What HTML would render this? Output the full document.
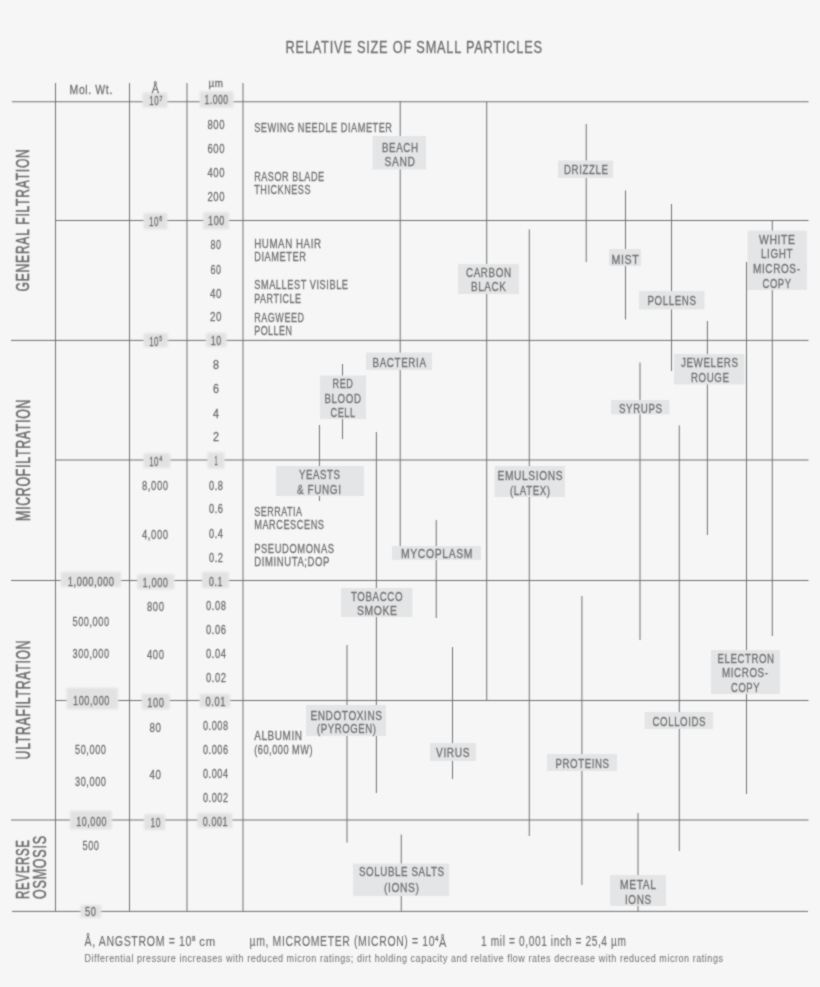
<!DOCTYPE html>
<html><head><meta charset="utf-8"><title>Relative Size of Small Particles</title>
<style>
html,body{margin:0;padding:0;background:#f6f6f6;}
svg{display:block;}
text{font-family:"Liberation Sans",Arial,sans-serif;fill:#6e6e6e;stroke:#6e6e6e;stroke-width:0.3px;}
text.r{stroke-width:0.55px;}
text.f1{stroke-width:0.15px;}
text.f2{stroke-width:0.05px;fill:#747474;stroke:#747474;}
</style></head><body>
<svg width="820" height="987" viewBox="0 0 820 987">
<defs><filter id="bd" x="-20%" y="-20%" width="140%" height="140%"><feGaussianBlur stdDeviation="0.9"/></filter>
<filter id="soft" x="0" y="0" width="820" height="987" filterUnits="userSpaceOnUse"><feConvolveMatrix color-interpolation-filters="sRGB" order="3" kernelMatrix="1 2 1 2 10 2 1 2 1" divisor="22" edgeMode="duplicate"/></filter></defs>
<g filter="url(#soft)">
<rect x="0" y="0" width="820" height="987" fill="#f6f6f6"/>
<g fill="#707070" >
<rect x="12" y="101.25" width="796.5" height="1"/>
<rect x="55" y="220" width="753.5" height="1"/>
<rect x="11" y="339.9" width="797.5" height="1"/>
<rect x="55" y="459.5" width="753.5" height="1"/>
<rect x="11" y="580" width="797.5" height="1"/>
<rect x="55" y="700" width="753.5" height="1"/>
<rect x="11" y="819.5" width="797.5" height="1"/>
<rect x="12" y="910.9" width="796" height="1"/>
<rect x="55" y="83" width="1" height="828"/>
<rect x="129" y="83" width="1" height="828"/>
<rect x="186.5" y="83" width="1" height="828"/>
<rect x="242.5" y="83" width="1" height="828"/>
<rect x="399.7" y="101" width="1" height="445"/>
<rect x="486.2" y="102" width="1" height="598"/>
<rect x="528.8" y="229.5" width="1" height="606.5"/>
<rect x="585.75" y="124" width="1" height="138"/>
<rect x="625" y="190.5" width="1" height="129"/>
<rect x="671" y="204" width="1" height="167"/>
<rect x="771.8" y="221" width="1" height="415"/>
<rect x="746" y="262" width="1" height="532"/>
<rect x="706.9" y="321" width="1" height="214"/>
<rect x="342" y="364" width="1" height="75"/>
<rect x="318.95" y="425" width="1" height="76"/>
<rect x="375.9" y="432" width="1" height="361"/>
<rect x="435.75" y="520" width="1" height="98"/>
<rect x="639.5" y="362.5" width="1" height="277.5"/>
<rect x="678.8" y="425.5" width="1" height="425.5"/>
<rect x="581.4" y="596" width="1" height="289"/>
<rect x="346.5" y="645" width="1" height="197.5"/>
<rect x="452" y="647" width="1" height="132"/>
<rect x="400.75" y="834.5" width="1" height="76.5"/>
<rect x="637.5" y="813" width="1" height="98"/>
</g>
<g fill="#f6f6f6">
<rect x="143.2" y="94.8" width="23.6" height="10.7"/>
<rect x="200.3" y="93.5" width="32.5" height="12"/>
<rect x="144.2" y="215" width="22.5" height="12.2"/>
<rect x="203.9" y="214.4" width="24.6" height="12.8"/>
<rect x="144.2" y="335.3" width="22.9" height="9.8"/>
<rect x="206.5" y="335" width="19.3" height="10"/>
<rect x="144.2" y="455.3" width="25.5" height="10.5"/>
<rect x="208" y="454.4" width="15.8" height="12.1"/>
<rect x="61.3" y="574" width="59.2" height="11"/>
<rect x="137.8" y="576.3" width="36" height="11"/>
<rect x="202.6" y="574" width="25.7" height="12"/>
<rect x="67.1" y="689.8" width="50.4" height="17.5"/>
<rect x="142.4" y="695.8" width="26.8" height="11.5"/>
<rect x="200.3" y="696" width="29.2" height="9.5"/>
<rect x="70.5" y="812.8" width="40.8" height="14.5"/>
<rect x="144.7" y="816.3" width="19.8" height="11.7"/>
<rect x="198" y="815" width="33.7" height="11"/>
<rect x="81" y="907" width="19.5" height="9"/>
</g>
<g fill="#e2e2e2" filter="url(#bd)">
<rect x="142.7" y="92.8" width="24.6" height="14.7"/>
<rect x="199.8" y="91.5" width="33.5" height="16"/>
<rect x="143.7" y="213" width="23.5" height="16.2"/>
<rect x="203.4" y="212.4" width="25.6" height="16.8"/>
<rect x="143.7" y="333.3" width="23.9" height="13.8"/>
<rect x="206" y="333" width="20.3" height="14"/>
<rect x="143.7" y="453.3" width="26.5" height="14.5"/>
<rect x="207.5" y="452.4" width="16.8" height="16.1"/>
<rect x="60.8" y="572" width="60.2" height="15"/>
<rect x="137.3" y="574.3" width="37" height="15"/>
<rect x="202.1" y="572" width="26.7" height="16"/>
<rect x="66.6" y="687.8" width="51.4" height="21.5"/>
<rect x="141.9" y="693.8" width="27.8" height="15.5"/>
<rect x="199.8" y="694" width="30.2" height="13.5"/>
<rect x="70" y="810.8" width="41.8" height="18.5"/>
<rect x="144.2" y="814.3" width="20.8" height="15.7"/>
<rect x="197.5" y="813" width="34.7" height="15"/>
<rect x="80.5" y="905" width="20.5" height="13"/>
</g>
<g fill="#e4e5e7">
<rect x="372.5" y="136" width="53.5" height="33.5"/>
<rect x="558" y="160.5" width="55" height="17.5"/>
<rect x="747.5" y="230.5" width="59.5" height="59.5"/>
<rect x="609" y="249" width="32" height="17"/>
<rect x="458" y="264" width="61" height="30"/>
<rect x="639" y="291" width="65.5" height="18.5"/>
<rect x="366" y="352.5" width="66" height="17.5"/>
<rect x="674" y="354" width="70.5" height="30.5"/>
<rect x="320" y="375.5" width="46" height="43.5"/>
<rect x="611" y="400" width="58.5" height="14.5"/>
<rect x="276" y="466" width="88" height="30"/>
<rect x="494.5" y="466" width="70.5" height="31"/>
<rect x="392" y="546" width="89" height="14"/>
<rect x="341" y="588" width="71.5" height="29"/>
<rect x="711" y="650" width="69" height="44"/>
<rect x="306" y="705" width="80" height="31"/>
<rect x="644.5" y="712" width="68.5" height="17"/>
<rect x="430" y="743" width="46" height="18"/>
<rect x="547" y="754" width="70" height="17"/>
<rect x="353" y="863.5" width="96" height="32.5"/>
<rect x="610" y="875" width="56" height="31"/>
</g>
<g>
<text x="285.6" y="52.6" font-size="16.28" textLength="257.16" lengthAdjust="spacingAndGlyphs" letter-spacing="0.98">RELATIVE SIZE OF SMALL PARTICLES</text>
<text x="69.6" y="93.5" font-size="13.66" textLength="43.32" lengthAdjust="spacingAndGlyphs" letter-spacing="0.82">Mol. Wt.</text>
<text x="151.7" y="93.2" font-size="12.35" textLength="7.1" lengthAdjust="spacingAndGlyphs">Å</text>
<text x="208.5" y="87.4" font-size="11.15" textLength="15.09" lengthAdjust="spacingAndGlyphs" letter-spacing="0.67">µm</text>
<text x="149.2" y="105.2" font-size="13.08" textLength="9.88" lengthAdjust="spacingAndGlyphs" letter-spacing="0.78">10</text>
<text x="159.6" y="101" font-size="7.12" textLength="3" lengthAdjust="spacingAndGlyphs">7</text>
<text x="149" y="225.7" font-size="13.37" textLength="9.99" lengthAdjust="spacingAndGlyphs" letter-spacing="0.8">10</text>
<text x="159.2" y="221.3" font-size="7.02" textLength="3" lengthAdjust="spacingAndGlyphs">6</text>
<text x="149.2" y="345.6" font-size="13.23" textLength="9.78" lengthAdjust="spacingAndGlyphs" letter-spacing="0.79">10</text>
<text x="159.2" y="341.3" font-size="7.12" textLength="2.8" lengthAdjust="spacingAndGlyphs">5</text>
<text x="149.2" y="465.8" font-size="13.52" textLength="9.78" lengthAdjust="spacingAndGlyphs" letter-spacing="0.81">10</text>
<text x="159.2" y="461.3" font-size="7.12" textLength="3" lengthAdjust="spacingAndGlyphs">4</text>
<text x="142" y="490.2" font-size="13.18" textLength="26.57" lengthAdjust="spacingAndGlyphs" letter-spacing="0.79">8,000</text>
<text x="142" y="538.8" font-size="13.52" textLength="26.57" lengthAdjust="spacingAndGlyphs" letter-spacing="0.81">4,000</text>
<text x="142.6" y="587" font-size="13.52" textLength="25.96" lengthAdjust="spacingAndGlyphs" letter-spacing="0.81">1,000</text>
<text x="147" y="611" font-size="12.89" textLength="17.57" lengthAdjust="spacingAndGlyphs" letter-spacing="0.77">800</text>
<text x="147" y="659.2" font-size="13.37" textLength="17.57" lengthAdjust="spacingAndGlyphs" letter-spacing="0.8">400</text>
<text x="147.2" y="707" font-size="13.52" textLength="17.26" lengthAdjust="spacingAndGlyphs" letter-spacing="0.81">100</text>
<text x="149.5" y="731.8" font-size="13.32" textLength="12.09" lengthAdjust="spacingAndGlyphs" letter-spacing="0.8">80</text>
<text x="149.5" y="779.3" font-size="13.52" textLength="12.09" lengthAdjust="spacingAndGlyphs" letter-spacing="0.81">40</text>
<text x="150.5" y="827" font-size="12.79" textLength="10.41" lengthAdjust="spacingAndGlyphs" letter-spacing="0.77">10</text>
<text x="67.7" y="585.9" font-size="13.52" textLength="46.96" lengthAdjust="spacingAndGlyphs" letter-spacing="0.81">1,000,000</text>
<text x="72.5" y="625.5" font-size="13.37" textLength="37.05" lengthAdjust="spacingAndGlyphs" letter-spacing="0.8">500,000</text>
<text x="72.5" y="658.2" font-size="13.18" textLength="37.05" lengthAdjust="spacingAndGlyphs" letter-spacing="0.79">300,000</text>
<text x="73" y="705.4" font-size="13.52" textLength="36.95" lengthAdjust="spacingAndGlyphs" letter-spacing="0.81">100,000</text>
<text x="75" y="754.2" font-size="13.37" textLength="31.55" lengthAdjust="spacingAndGlyphs" letter-spacing="0.8">50,000</text>
<text x="75" y="786.2" font-size="13.18" textLength="31.55" lengthAdjust="spacingAndGlyphs" letter-spacing="0.79">30,000</text>
<text x="76.3" y="825.9" font-size="12.94" textLength="30.63" lengthAdjust="spacingAndGlyphs" letter-spacing="0.78">10,000</text>
<text x="82.5" y="850.2" font-size="13.37" textLength="17.06" lengthAdjust="spacingAndGlyphs" letter-spacing="0.8">500</text>
<text x="85" y="915.5" font-size="13.52" textLength="11.57" lengthAdjust="spacingAndGlyphs" letter-spacing="0.81">50</text>
<text x="204.5" y="103.8" font-size="12.06" textLength="24.02" lengthAdjust="spacingAndGlyphs" letter-spacing="0.72">1.000</text>
<text x="207.5" y="129" font-size="12.89" textLength="17.57" lengthAdjust="spacingAndGlyphs" letter-spacing="0.77">800</text>
<text x="207.5" y="152.8" font-size="12.61" textLength="17.57" lengthAdjust="spacingAndGlyphs" letter-spacing="0.76">600</text>
<text x="207.5" y="177" font-size="13.08" textLength="17.57" lengthAdjust="spacingAndGlyphs" letter-spacing="0.78">400</text>
<text x="207.5" y="201" font-size="12.89" textLength="17.57" lengthAdjust="spacingAndGlyphs" letter-spacing="0.77">200</text>
<text x="208.1" y="224.9" font-size="12.35" textLength="16.75" lengthAdjust="spacingAndGlyphs" letter-spacing="0.74">100</text>
<text x="210.5" y="249" font-size="12.89" textLength="11.04" lengthAdjust="spacingAndGlyphs" letter-spacing="0.77">80</text>
<text x="210.5" y="273.5" font-size="12.89" textLength="11.04" lengthAdjust="spacingAndGlyphs" letter-spacing="0.77">60</text>
<text x="210" y="297.5" font-size="12.65" textLength="12.09" lengthAdjust="spacingAndGlyphs" letter-spacing="0.76">40</text>
<text x="210" y="321.2" font-size="12.46" textLength="12.09" lengthAdjust="spacingAndGlyphs" letter-spacing="0.75">20</text>
<text x="210.8" y="345.1" font-size="12.65" textLength="10.94" lengthAdjust="spacingAndGlyphs" letter-spacing="0.76">10</text>
<text x="213" y="369.2" font-size="12.46" textLength="6" lengthAdjust="spacingAndGlyphs">8</text>
<text x="213" y="393.2" font-size="12.46" textLength="6" lengthAdjust="spacingAndGlyphs">6</text>
<text x="213" y="417.5" font-size="12.65" textLength="6" lengthAdjust="spacingAndGlyphs">4</text>
<text x="213" y="441.2" font-size="12.46" textLength="6" lengthAdjust="spacingAndGlyphs">2</text>
<text x="214.5" y="465.1" font-size="12.65" textLength="3.1" lengthAdjust="spacingAndGlyphs">1</text>
<text x="209" y="489.7" font-size="12.46" textLength="14.56" lengthAdjust="spacingAndGlyphs" letter-spacing="0.75">0.8</text>
<text x="209" y="513.3" font-size="12.18" textLength="14.56" lengthAdjust="spacingAndGlyphs" letter-spacing="0.73">0.6</text>
<text x="209" y="537.5" font-size="12.46" textLength="14.56" lengthAdjust="spacingAndGlyphs" letter-spacing="0.75">0.4</text>
<text x="209" y="561.5" font-size="12.46" textLength="14.56" lengthAdjust="spacingAndGlyphs" letter-spacing="0.75">0.2</text>
<text x="209" y="586" font-size="12.32" textLength="13.83" lengthAdjust="spacingAndGlyphs" letter-spacing="0.74">0.1</text>
<text x="206" y="609.8" font-size="12.61" textLength="20.57" lengthAdjust="spacingAndGlyphs" letter-spacing="0.76">0.08</text>
<text x="206" y="634" font-size="12.46" textLength="20.57" lengthAdjust="spacingAndGlyphs" letter-spacing="0.75">0.06</text>
<text x="206" y="658" font-size="12.46" textLength="20.57" lengthAdjust="spacingAndGlyphs" letter-spacing="0.75">0.04</text>
<text x="206" y="682" font-size="12.46" textLength="20.57" lengthAdjust="spacingAndGlyphs" letter-spacing="0.75">0.02</text>
<text x="205.6" y="705.9" font-size="12.46" textLength="20.26" lengthAdjust="spacingAndGlyphs" letter-spacing="0.75">0.01</text>
<text x="203" y="730" font-size="12.61" textLength="25.55" lengthAdjust="spacingAndGlyphs" letter-spacing="0.76">0.008</text>
<text x="203" y="754" font-size="12.46" textLength="25.55" lengthAdjust="spacingAndGlyphs" letter-spacing="0.75">0.006</text>
<text x="203" y="778" font-size="12.46" textLength="25.55" lengthAdjust="spacingAndGlyphs" letter-spacing="0.75">0.004</text>
<text x="203" y="802.2" font-size="12.46" textLength="25.55" lengthAdjust="spacingAndGlyphs" letter-spacing="0.75">0.002</text>
<text x="202.8" y="826.3" font-size="12.46" textLength="25.35" lengthAdjust="spacingAndGlyphs" letter-spacing="0.75">0.001</text>
<text x="254.2" y="132" font-size="12.89" textLength="138.35" lengthAdjust="spacingAndGlyphs" letter-spacing="0.77">SEWING NEEDLE DIAMETER</text>
<text x="254.2" y="180.8" font-size="12.79" textLength="70.35" lengthAdjust="spacingAndGlyphs" letter-spacing="0.77">RASOR BLADE</text>
<text x="254.2" y="194" font-size="13.08" textLength="56.85" lengthAdjust="spacingAndGlyphs" letter-spacing="0.78">THICKNESS</text>
<text x="254.2" y="247.8" font-size="12.79" textLength="67.38" lengthAdjust="spacingAndGlyphs" letter-spacing="0.77">HUMAN HAIR</text>
<text x="254.2" y="261.2" font-size="12.65" textLength="52.36" lengthAdjust="spacingAndGlyphs" letter-spacing="0.76">DIAMETER</text>
<text x="254.2" y="289" font-size="12.61" textLength="94.35" lengthAdjust="spacingAndGlyphs" letter-spacing="0.76">SMALLEST VISIBLE</text>
<text x="254.2" y="302.7" font-size="12.65" textLength="47.34" lengthAdjust="spacingAndGlyphs" letter-spacing="0.76">PARTICLE</text>
<text x="254.2" y="321.8" font-size="12.79" textLength="50.34" lengthAdjust="spacingAndGlyphs" letter-spacing="0.77">RAGWEED</text>
<text x="254.2" y="335" font-size="12.65" textLength="38.34" lengthAdjust="spacingAndGlyphs" letter-spacing="0.76">POLLEN</text>
<text x="254.2" y="515.7" font-size="12.46" textLength="48.33" lengthAdjust="spacingAndGlyphs" letter-spacing="0.75">SERRATIA</text>
<text x="254.2" y="529.2" font-size="12.65" textLength="70.35" lengthAdjust="spacingAndGlyphs" letter-spacing="0.76">MARCESCENS</text>
<text x="254.2" y="552.7" font-size="12.65" textLength="80.37" lengthAdjust="spacingAndGlyphs" letter-spacing="0.76">PSEUDOMONAS</text>
<text x="254.2" y="566.2" font-size="12.65" textLength="75.87" lengthAdjust="spacingAndGlyphs" letter-spacing="0.76">DIMINUTA;DOP</text>
<text x="254.2" y="740" font-size="12.79" textLength="48.4" lengthAdjust="spacingAndGlyphs" letter-spacing="0.77">ALBUMIN</text>
<text x="254.2" y="753.8" font-size="11.89" textLength="58.85" lengthAdjust="spacingAndGlyphs" letter-spacing="0.71">(60,000 MW)</text>
<text x="382" y="152" font-size="13.08" textLength="36.59" lengthAdjust="spacingAndGlyphs" letter-spacing="0.78">BEACH</text>
<text x="384.5" y="166" font-size="12.89" textLength="31.12" lengthAdjust="spacingAndGlyphs" letter-spacing="0.77">SAND</text>
<text x="564" y="174.3" font-size="13.52" textLength="44.58" lengthAdjust="spacingAndGlyphs" letter-spacing="0.81">DRIZZLE</text>
<text x="759" y="243.8" font-size="13.37" textLength="36.62" lengthAdjust="spacingAndGlyphs" letter-spacing="0.8">WHITE</text>
<text x="761" y="258" font-size="13.08" textLength="32.09" lengthAdjust="spacingAndGlyphs" letter-spacing="0.78">LIGHT</text>
<text x="753" y="273.2" font-size="12.94" textLength="47.6" lengthAdjust="spacingAndGlyphs" letter-spacing="0.78">MICROS-</text>
<text x="762.5" y="288" font-size="12.89" textLength="29.07" lengthAdjust="spacingAndGlyphs" letter-spacing="0.77">COPY</text>
<text x="611.5" y="263.8" font-size="13.37" textLength="27.93" lengthAdjust="spacingAndGlyphs" letter-spacing="0.8">MIST</text>
<text x="466" y="276.8" font-size="13.18" textLength="45.59" lengthAdjust="spacingAndGlyphs" letter-spacing="0.79">CARBON</text>
<text x="471" y="290.5" font-size="12.94" textLength="35.6" lengthAdjust="spacingAndGlyphs" letter-spacing="0.78">BLACK</text>
<text x="647.5" y="305.4" font-size="13.37" textLength="49.09" lengthAdjust="spacingAndGlyphs" letter-spacing="0.8">POLLENS</text>
<text x="372.5" y="366.8" font-size="13.08" textLength="54.09" lengthAdjust="spacingAndGlyphs" letter-spacing="0.78">BACTERIA</text>
<text x="681" y="367" font-size="13.37" textLength="57.59" lengthAdjust="spacingAndGlyphs" letter-spacing="0.8">JEWELERS</text>
<text x="691" y="381.8" font-size="13.37" textLength="38.58" lengthAdjust="spacingAndGlyphs" letter-spacing="0.8">ROUGE</text>
<text x="332.5" y="388.3" font-size="12.79" textLength="21.05" lengthAdjust="spacingAndGlyphs" letter-spacing="0.77">RED</text>
<text x="324.5" y="402.7" font-size="12.94" textLength="37.09" lengthAdjust="spacingAndGlyphs" letter-spacing="0.78">BLOOD</text>
<text x="330.5" y="417" font-size="12.61" textLength="25.05" lengthAdjust="spacingAndGlyphs" letter-spacing="0.76">CELL</text>
<text x="619" y="412.6" font-size="12.89" textLength="43.59" lengthAdjust="spacingAndGlyphs" letter-spacing="0.77">SYRUPS</text>
<text x="299" y="479" font-size="13.08" textLength="41.58" lengthAdjust="spacingAndGlyphs" letter-spacing="0.78">YEASTS</text>
<text x="297" y="494" font-size="13.08" textLength="44.59" lengthAdjust="spacingAndGlyphs" letter-spacing="0.78">&amp; FUNGI</text>
<text x="497.5" y="480.2" font-size="13.08" textLength="65.61" lengthAdjust="spacingAndGlyphs" letter-spacing="0.78">EMULSIONS</text>
<text x="401" y="558.2" font-size="13.08" textLength="72.13" lengthAdjust="spacingAndGlyphs" letter-spacing="0.78">MYCOPLASM</text>
<text x="351" y="600.6" font-size="12.79" textLength="52.08" lengthAdjust="spacingAndGlyphs" letter-spacing="0.77">TOBACCO</text>
<text x="357" y="614.5" font-size="12.89" textLength="40.62" lengthAdjust="spacingAndGlyphs" letter-spacing="0.77">SMOKE</text>
<text x="717.5" y="663" font-size="13.08" textLength="57.08" lengthAdjust="spacingAndGlyphs" letter-spacing="0.78">ELECTRON</text>
<text x="722" y="677.3" font-size="13.08" textLength="46.59" lengthAdjust="spacingAndGlyphs" letter-spacing="0.78">MICROS-</text>
<text x="731" y="692" font-size="13.18" textLength="29.07" lengthAdjust="spacingAndGlyphs" letter-spacing="0.79">COPY</text>
<text x="310.5" y="719.5" font-size="13.08" textLength="72.1" lengthAdjust="spacingAndGlyphs" letter-spacing="0.78">ENDOTOXINS</text>
<text x="652.5" y="725.8" font-size="13.47" textLength="53.58" lengthAdjust="spacingAndGlyphs" letter-spacing="0.81">COLLOIDS</text>
<text x="436" y="756.6" font-size="13.37" textLength="34.11" lengthAdjust="spacingAndGlyphs" letter-spacing="0.8">VIRUS</text>
<text x="555.5" y="768" font-size="13.08" textLength="54.08" lengthAdjust="spacingAndGlyphs" letter-spacing="0.78">PROTEINS</text>
<text x="359" y="876.3" font-size="12.89" textLength="85.59" lengthAdjust="spacingAndGlyphs" letter-spacing="0.77">SOLUBLE SALTS</text>
<text x="620" y="889" font-size="13.08" textLength="36.62" lengthAdjust="spacingAndGlyphs" letter-spacing="0.78">METAL</text>
<text x="625" y="903.8" font-size="13.37" textLength="26.59" lengthAdjust="spacingAndGlyphs" letter-spacing="0.8">IONS</text>
<text x="510" y="494.6" font-size="13.08" textLength="40.58" lengthAdjust="spacingAndGlyphs" letter-spacing="0.78">(LATEX)</text>
<text x="317" y="733.2" font-size="13.08" textLength="59.58" lengthAdjust="spacingAndGlyphs" letter-spacing="0.78">(PYROGEN)</text>
<text x="384" y="891.8" font-size="13.37" textLength="35.61" lengthAdjust="spacingAndGlyphs" letter-spacing="0.8">(IONS)</text>
<text x="84.5" y="946.3" font-size="14.53" textLength="107.64" lengthAdjust="spacingAndGlyphs" letter-spacing="0.87" class="f1">Å, ANGSTROM = 10</text>
<text x="192" y="941.2" font-size="7.02" textLength="3.4" lengthAdjust="spacingAndGlyphs">8</text>
<text x="199.3" y="946.3" font-size="12.45" textLength="16.48" lengthAdjust="spacingAndGlyphs" letter-spacing="0.75" class="f1">cm</text>
<text x="249.5" y="946.4" font-size="14.83" textLength="185.73" lengthAdjust="spacingAndGlyphs" letter-spacing="0.89" class="f1">µm, MICROMETER (MICRON) = 10</text>
<text x="435.1" y="940.6" font-size="6.98" textLength="3.4" lengthAdjust="spacingAndGlyphs">4</text>
<text x="439" y="946.5" font-size="14.97" textLength="7.3" lengthAdjust="spacingAndGlyphs" class="f1">Å</text>
<text x="481" y="946" font-size="14.53" textLength="145.61" lengthAdjust="spacingAndGlyphs" letter-spacing="0.87" class="f1">1 mil = 0,001 inch = 25,4 µm</text>
<text x="84.5" y="962" font-size="11.63" textLength="639.04" lengthAdjust="spacingAndGlyphs" letter-spacing="0.7" class="f2">Differential pressure increases with reduced micron ratings; dirt holding capacity and relative flow rates decrease with reduced micron ratings</text>
<text class="r" transform="translate(29.2 291.4) rotate(-90)" font-size="18.62" textLength="142.93" lengthAdjust="spacingAndGlyphs" letter-spacing="1.12">GENERAL FILTRATION</text>
<text class="r" transform="translate(29.7 521) rotate(-90)" font-size="19.62" textLength="122.24" lengthAdjust="spacingAndGlyphs" letter-spacing="1.18">MICROFILTRATION</text>
<text class="r" transform="translate(29.7 759.4) rotate(-90)" font-size="19.62" textLength="119.84" lengthAdjust="spacingAndGlyphs" letter-spacing="1.18">ULTRAFILTRATION</text>
<text class="r" transform="translate(29 899) rotate(-90)" font-size="18.6" textLength="59.69" lengthAdjust="spacingAndGlyphs" letter-spacing="1.12">REVERSE</text>
<text class="r" transform="translate(46 898.9) rotate(-90)" font-size="17.77" textLength="63.64" lengthAdjust="spacingAndGlyphs" letter-spacing="1.07">OSMOSIS</text>
</g>
</g>
</svg>
</body></html>
